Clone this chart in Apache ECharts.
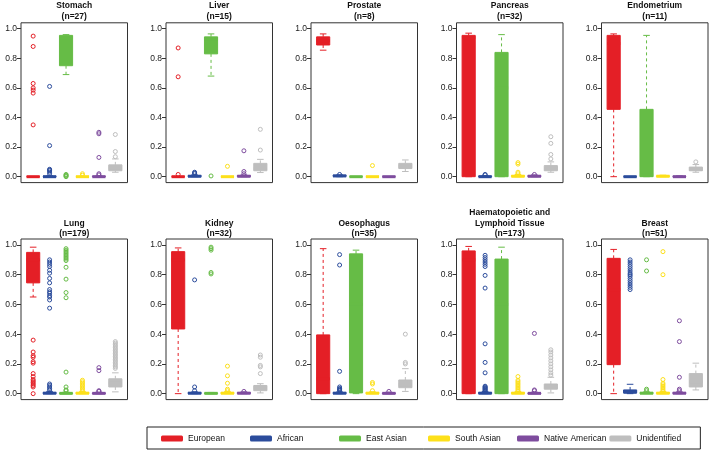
<!DOCTYPE html>
<html><head><meta charset="utf-8">
<script src="https://cdn.jsdelivr.net/npm/echarts@6/dist/echarts.min.js"></script>
<style>html,body{margin:0;padding:0;background:#fff}#c{width:709px;height:450px}</style>
</head><body><div id="c"></div>
<script>
// ---- data ----
const groups = ['European','African','East Asian','South Asian','Native American','Unidentified'];
const tissues = ['Stomach','Liver','Prostate','Pancreas','Endometrium','Lung','Kidney','Oesophagus','Haematopoietic and\nLymphoid Tissue','Breast'];
const counts = [27,15,8,32,11,179,32,35,173,51];
const yTicks = [0,0.2,0.4,0.6,0.8,1.0];

// box stats per group: [lower whisker, Q1, median, Q3, upper whisker]
const stomachBoxes = [[0,0,0,0,0],[0,0,0,0.003,0.006],[0.69,0.75,0.94,0.955,0.96],[0,0,0,0,0],[0,0,0,0.003,0.006],[0.03,0.04,0.06,0.08,0.12]];
const stomachOut = [[0.95,0.88,0.63,0.6,0.585,0.565,0.35],[0.61,0.21,0.05,0.045,0.04,0.03,0.02],[0.015,0.01,0.005,0],[0.02,0.01],[0.30,0.29,0.13,0.02,0.012],[0.285,0.17,0.135]];
const liverBoxes = [[0,0,0,0,0],[0,0,0.003,0.008,0.012],[0.68,0.83,0.93,0.945,0.965],[0,0,0,0,0],[0,0,0.003,0.008,0.012],[0.028,0.04,0.055,0.09,0.117]];
const liverOut = [[0.87,0.675,0.015],[0.03,0.025,0.02],[0.005],[0.07],[0.175,0.035,0.02],[0.32,0.18]];
const prostateBoxes = [[0.855,0.89,0.92,0.945,0.965],[0,0.002,0.005,0.01,0.012],[0,0,0,0,0],[0,0,0,0,0],[0,0,0,0,0],[0.035,0.055,0.07,0.09,0.113]];
const prostateOut = [[],[0.015],[],[0.075],[],[]];
const pancreasBoxes = [[0,0,0.94,0.955,0.97],[0,0,0,0.004,0.008],[0,0,0.6,0.84,0.96],[0,0,0.003,0.008,0.015],[0,0,0.003,0.008,0.012],[0.03,0.04,0.055,0.075,0.1]];
const pancreasOut = [[],[0.015,0.012],[],[0.095,0.085,0.03,0.02],[0.015],[0.27,0.225,0.15,0.12]];
const endometriumBoxes = [[0,0.455,0.9,0.955,0.965],[0,0,0,0,0],[0,0,0.01,0.455,0.955],[0,0,0.003,0.006,0.01],[0,0,0,0.003,0.005],[0.03,0.04,0.05,0.065,0.082]];
const endometriumOut = [[],[],[],[],[],[0.1]];
const lungBoxes = [[0.65,0.745,0.9,0.95,0.985],[0,0,0.003,0.008,0.015],[0,0,0.002,0.005,0.01],[0,0,0.003,0.008,0.015],[0,0,0.002,0.005,0.01],[0.012,0.045,0.07,0.1,0.14]];
const lungOut = [[0.36,0.28,0.255,0.245,0.215,0.205,0.135,0.115,0.095,0.085,0.075,0.065,0.055,0.045,0],
  [0.9,0.885,0.87,0.855,0.83,0.81,0.775,0.745,0.7,0.685,0.675,0.66,0.65,0.63,0.575,0.065,0.055,0.045,0.035,0.025],
  [0.975,0.965,0.955,0.945,0.935,0.925,0.915,0.905,0.895,0.85,0.77,0.68,0.645,0.145,0.045,0.025,0.02],
  [0.09,0.08,0.07,0.06,0.05,0.04,0.03,0.02],
  [0.175,0.155,0.02,0.015],
  [0.35,0.34,0.33,0.32,0.31,0.30,0.29,0.28,0.27,0.26,0.25,0.24,0.23,0.22,0.21,0.2,0.19,0.18,0.17]];
const kidneyBoxes = [[0,0.435,0.9,0.955,0.98],[0,0,0.003,0.008,0.012],[0,0,0.002,0.005,0.008],[0,0,0.003,0.008,0.015],[0,0,0.003,0.008,0.012],[0.005,0.02,0.04,0.055,0.067]];
const kidneyOut = [[],[0.765,0.045,0.02],[0.985,0.975,0.965,0.815,0.805],[0.185,0.12,0.07,0.03,0.02],[0.015],[0.26,0.245,0.19,0.18,0.135]];
const oesophagusBoxes = [[0,0,0.1,0.395,0.975],[0,0,0.003,0.008,0.012],[0,0.005,0.6,0.94,0.965],[0,0,0.003,0.008,0.012],[0,0,0.002,0.005,0.01],[0.015,0.04,0.06,0.092,0.168]];
const oesophagusOut = [[],[0.935,0.865,0.15,0.045,0.035,0.03,0.025,0.02],[],[0.075,0.065,0.02],[0.015],[0.4,0.21,0.2]];
const haemaBoxes = [[0,0,0.9,0.96,0.99],[0,0,0.003,0.008,0.015],[0,0,0.6,0.905,0.985],[0,0,0.003,0.008,0.015],[0,0,0.002,0.005,0.01],[0.005,0.03,0.045,0.065,0.11]];
const haemaOut = [[],[0.93,0.915,0.9,0.885,0.87,0.855,0.795,0.71,0.335,0.21,0.14,0.05,0.045,0.04,0.035,0.03,0.025,0.02],[],[0.115,0.09,0.08,0.07,0.06,0.05,0.04,0.03,0.02],[0.405,0.025,0.02],[0.295,0.28,0.26,0.24,0.22,0.2,0.18,0.16,0.14,0.125]];
const breastBoxes = [[0,0.195,0.7,0.91,0.97],[0,0.005,0.01,0.025,0.063],[0,0,0.003,0.008,0.012],[0,0,0.003,0.008,0.015],[0,0,0.003,0.008,0.012],[0.025,0.045,0.08,0.135,0.205]];
const breastOut = [[],[0.9,0.885,0.87,0.855,0.84,0.825,0.81,0.8,0.79,0.775,0.76,0.745,0.73,0.715,0.7],[0.9,0.825,0.03,0.02],[0.955,0.8,0.095,0.07,0.06,0.05,0.04,0.03,0.02],[0.49,0.35,0.11,0.03,0.02],[]];

const allBoxes = [stomachBoxes,liverBoxes,prostateBoxes,pancreasBoxes,endometriumBoxes,lungBoxes,kidneyBoxes,oesophagusBoxes,haemaBoxes,breastBoxes];
const allOut = [stomachOut,liverOut,prostateOut,pancreasOut,endometriumOut,lungOut,kidneyOut,oesophagusOut,haemaOut,breastOut];

// ---- style / layout ----
const colors = ['#E41F26','#2B4C9C','#66BC46','#FDE01A','#7E4C9E','#BEBEBE'];
const font = 'Liberation Sans, Arial, Helvetica, sans-serif';
const colLeft = [21,166,311,456.5,601.5];
const gW = 106.5;
const rowTop = [22.8,239];
const gH = [159.8,160.6];

const grids=[], xAxes=[], yAxes=[], titles=[], series=[];
for (let p=0;p<10;p++){
  const r = Math.floor(p/5), c = p%5;
  grids.push({left:colLeft[c], top:rowTop[r], width:gW, height:gH[r], show:true, borderColor:'#333', borderWidth:1, backgroundColor:'transparent', containLabel:false});
  xAxes.push({type:'value', gridIndex:p, min:0.26, max:6.74, show:false});
  yAxes.push({type:'value', gridIndex:p, min:-0.04, max:1.04,
    axisLine:{show:false}, splitLine:{show:false},
    axisTick:{show:true, length:4, lineStyle:{color:'#333'}, customValues:yTicks},
    axisLabel:{show:true, fontSize:8.5, fontFamily:font, color:'#222', margin:4, customValues:yTicks, formatter:v=>Number(v).toFixed(1)}});
  const lines = tissues[p].split('\n').length + 1;
  const lh = 10.5;
  const top = r===0 ? 0.5 : (lines===3 ? 207.5 : 218);
  titles.push({text: tissues[p] + '\n(n=' + counts[p] + ')', left: colLeft[c] + gW/2, top: top, textAlign:'center', padding:0,
    textStyle:{fontSize:8.5, fontWeight:'bold', fontFamily:font, color:'#111', lineHeight:lh}});
  for (let g=0; g<6; g++){
    const col = colors[g];
    series.push({type:'custom', name:groups[g], xAxisIndex:p, yAxisIndex:p, itemStyle:{color:col},
      dimensions:['x','lo','q1','med','q3','hi'], encode:{x:0, y:[1,2,3,4,5]},
      data:[[g+1].concat(allBoxes[p][g])],
      renderItem:function(params, api){
        const x=api.value(0), lo=api.value(1), q1=api.value(2), med=api.value(3), q3=api.value(4), hi=api.value(5);
        const bw = api.size([0.8,0])[0];
        const sw = bw*0.5;
        const pLo=api.coord([x,lo]), pQ1=api.coord([x,q1]), pM=api.coord([x,med]), pQ3=api.coord([x,q3]), pHi=api.coord([x,hi]);
        const cx = pM[0];
        const kids = [];
        if (pHi[1] < pQ3[1]) kids.push({type:'line', shape:{x1:cx,y1:pQ3[1],x2:cx,y2:pHi[1]}, style:{stroke:col, lineWidth:1, lineDash:[3,3]}});
        if (pLo[1] > pQ1[1]) kids.push({type:'line', shape:{x1:cx,y1:pQ1[1],x2:cx,y2:pLo[1]}, style:{stroke:col, lineWidth:1, lineDash:[3,3]}});
        kids.push({type:'line', shape:{x1:cx-sw/2,y1:pHi[1],x2:cx+sw/2,y2:pHi[1]}, style:{stroke:col, lineWidth:1}});
        kids.push({type:'line', shape:{x1:cx-sw/2,y1:pLo[1],x2:cx+sw/2,y2:pLo[1]}, style:{stroke:col, lineWidth:1}});
        kids.push({type:'rect', shape:{x:cx-bw/2, y:pQ3[1], width:bw, height:Math.max(0,pQ1[1]-pQ3[1])}, style:{fill:col, stroke:col, lineWidth:1}});
        kids.push({type:'line', shape:{x1:cx-bw/2,y1:pM[1],x2:cx+bw/2,y2:pM[1]}, style:{stroke:col, lineWidth:3}});
        return {type:'group', children:kids};
      }});
    if (allOut[p][g].length){
      series.push({type:'scatter', name:groups[g], xAxisIndex:p, yAxisIndex:p, symbol:'circle', symbolSize:4,
        itemStyle:{color:'rgba(0,0,0,0)', borderColor:col, borderWidth:1, opacity:1},
        data: allOut[p][g].map(v=>[g+1, v]), z:3});
    }
  }
}

const chart = echarts.init(document.getElementById('c'), null, {renderer:'canvas'});
chart.setOption({
  animation:false,
  backgroundColor:'#fff',
  title:titles, grid:grids, xAxis:xAxes, yAxis:yAxes, series:series,
  legend:{show:true, selectedMode:false, left:147, top:427, orient:'horizontal',
    borderColor:'#222', borderWidth:1, padding:[6,5,5,14], itemGap:3, itemWidth:22, itemHeight:6,
    textStyle:{fontSize:8.5, fontFamily:font, color:'#111', width:59, lineHeight:11},
    data: groups.map((n,i)=>({name:n, icon:'roundRect', itemStyle:{color:colors[i], borderWidth:0}}))}
});
</script></body></html>
